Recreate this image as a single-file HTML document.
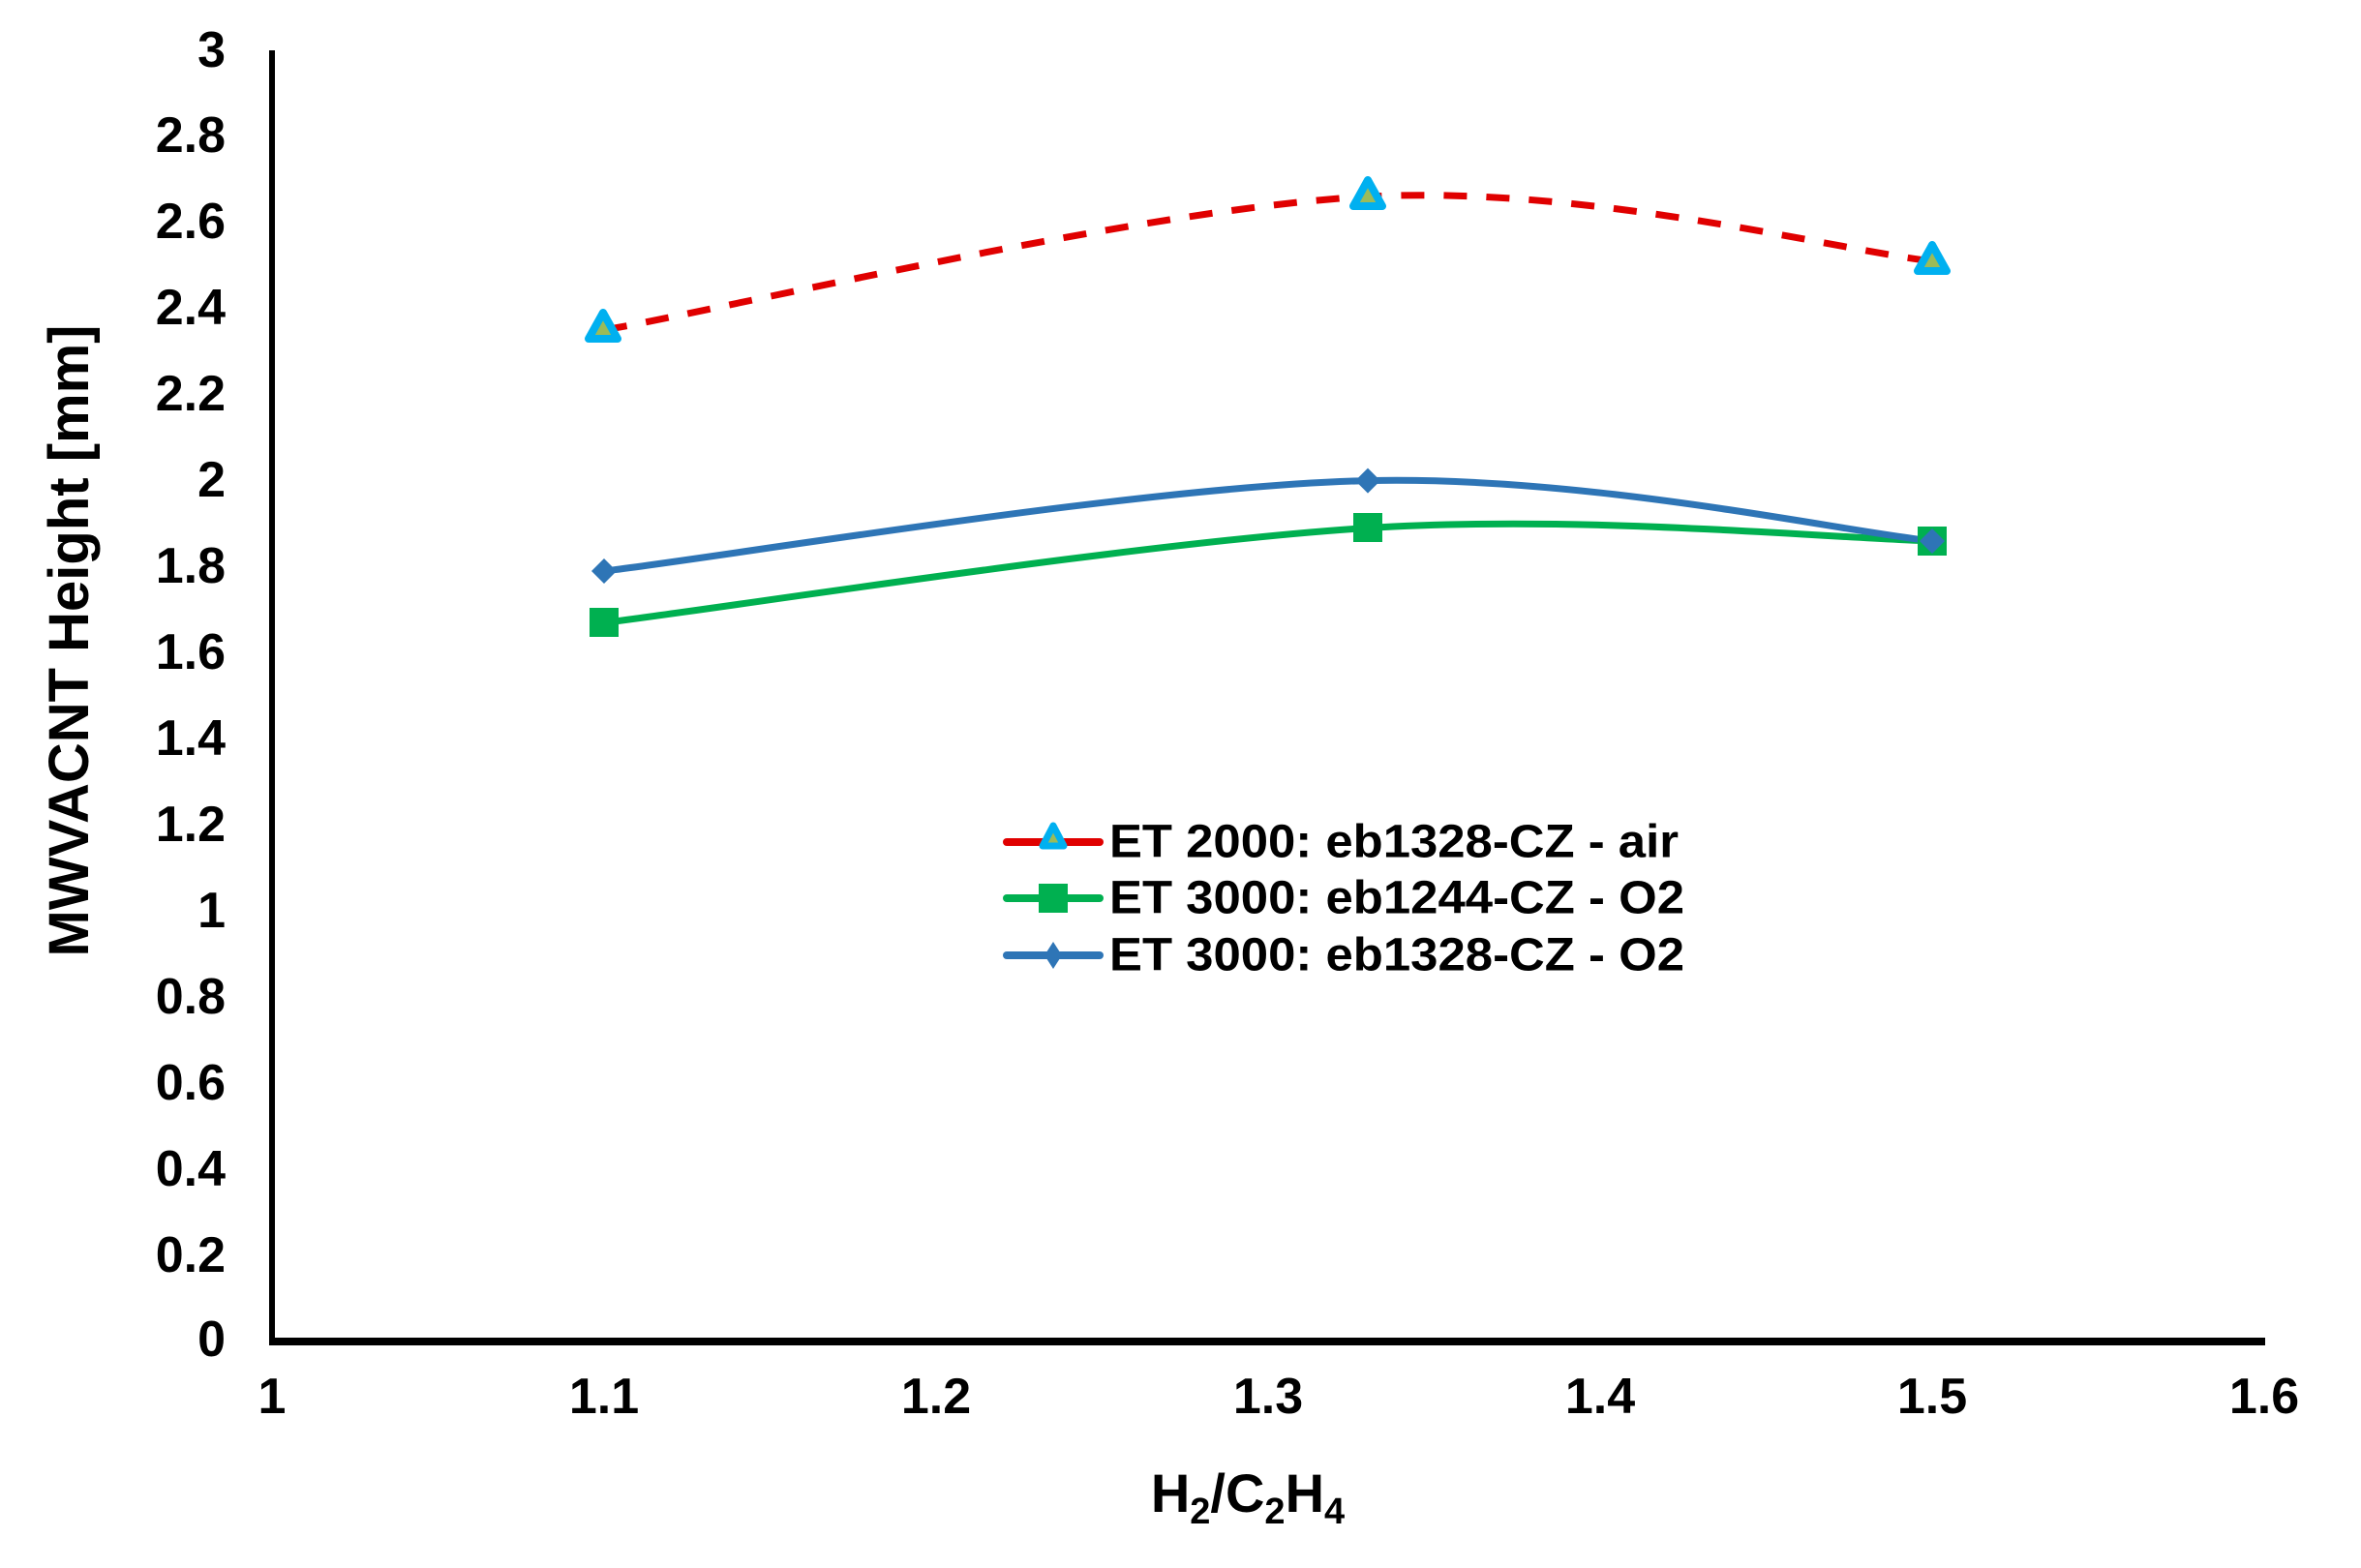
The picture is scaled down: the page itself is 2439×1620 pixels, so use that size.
<!DOCTYPE html>
<html><head><meta charset="utf-8"><style>html,body{margin:0;padding:0;background:#fff}svg{display:block}</style></head>
<body>
<svg width="2439" height="1620" viewBox="0 0 2439 1620" xmlns="http://www.w3.org/2000/svg" font-family="Liberation Sans, Arial, sans-serif" font-weight="bold">
<rect width="2439" height="1620" fill="#fff"/>
<!-- axes -->
<line x1="281" y1="52" x2="281" y2="1390" stroke="#000" stroke-width="6"/>
<line x1="278" y1="1386" x2="2340" y2="1386" stroke="#000" stroke-width="8"/>
<!-- y tick labels -->
<g font-size="52" text-anchor="end" dominant-baseline="central" fill="#000">
<text x="233" y="52">3</text>
<text x="233" y="140">2.8</text>
<text x="233" y="229">2.6</text>
<text x="233" y="318">2.4</text>
<text x="233" y="407">2.2</text>
<text x="233" y="496">2</text>
<text x="233" y="585">1.8</text>
<text x="233" y="674">1.6</text>
<text x="233" y="763">1.4</text>
<text x="233" y="852">1.2</text>
<text x="233" y="941">1</text>
<text x="233" y="1030">0.8</text>
<text x="233" y="1119">0.6</text>
<text x="233" y="1208">0.4</text>
<text x="233" y="1297">0.2</text>
<text x="233" y="1384">0</text>
</g>
<!-- x tick labels -->
<g font-size="52" text-anchor="middle" dominant-baseline="central" fill="#000">
<text x="281" y="1443">1</text>
<text x="624" y="1443">1.1</text>
<text x="967" y="1443">1.2</text>
<text x="1310" y="1443">1.3</text>
<text x="1653" y="1443">1.4</text>
<text x="1996" y="1443">1.5</text>
<text x="2339" y="1443">1.6</text>
</g>
<!-- axis titles -->
<text x="1289" y="1562" font-size="56" text-anchor="middle">H<tspan font-size="38" dy="12">2</tspan><tspan dy="-12">/C</tspan><tspan font-size="38" dy="12">2</tspan><tspan dy="-12">H</tspan><tspan font-size="38" dy="12">4</tspan></text>
<text transform="translate(91,662) rotate(-90)" font-size="58" text-anchor="middle">MWVACNT Height  [mm]</text>
<!-- series -->
<path d="M624,341 C755.5,318 1184.3,215 1413,203.1 C1641.7,191.2 1898.8,258.7 1996,269.8" fill="none" stroke="#e00000" stroke-width="7" stroke-dasharray="24,20"/>
<path d="M624,643.4 C755.5,627.1 1184.3,559.6 1413,545.5 C1641.7,531.4 1898.8,556.7 1996,558.9" fill="none" stroke="#00b050" stroke-width="7"/>
<path d="M624,590 C755.5,574.4 1184.3,501.8 1413,496.6 C1641.7,491.4 1898.8,548.5 1996,558.9" fill="none" stroke="#2e75b6" stroke-width="7"/>
<!-- markers -->
<g fill="#00b050"><rect x="609" y="628" width="30" height="30"/><rect x="1398" y="530" width="30" height="30"/><rect x="1981" y="544" width="30" height="30"/></g>
<g fill="#2e75b6"><path d="M624,577 l13,13 l-13,13 l-13,-13z"/><path d="M1413,483.6 l13,13 l-13,13 l-13,-13z"/><path d="M1996,546 l13,13 l-13,13 l-13,-13z"/></g>
<g fill="#9bbb59" stroke="#00b0f0" stroke-width="8" stroke-linejoin="round">
<path d="M623,323 l15,27 h-30z"/><path d="M1413,186 l15,27 h-30z"/><path d="M1996,253 l15,27 h-30z"/>
</g>
<!-- legend -->
<line x1="1040" y1="870" x2="1136" y2="870" stroke="#e00000" stroke-width="8" stroke-linecap="round"/>
<path d="M1088,853 l11,21 h-22z" fill="#9bbb59" stroke="#00b0f0" stroke-width="7" stroke-linejoin="round"/>
<line x1="1040" y1="928" x2="1136" y2="928" stroke="#00b050" stroke-width="8" stroke-linecap="round"/>
<rect x="1073" y="913" width="30" height="30" fill="#00b050"/>
<line x1="1040" y1="987" x2="1136" y2="987" stroke="#2e75b6" stroke-width="8" stroke-linecap="round"/>
<path d="M1088,973 l9,14 l-9,14 l-9,-14z" fill="#2e75b6"/>
<g font-size="48" dominant-baseline="central" fill="#000">
<text x="1146" y="870" textLength="588" lengthAdjust="spacingAndGlyphs">ET 2000: eb1328-CZ - air</text>
<text x="1146" y="928" textLength="594" lengthAdjust="spacingAndGlyphs">ET 3000: eb1244-CZ - O2</text>
<text x="1146" y="987" textLength="594" lengthAdjust="spacingAndGlyphs">ET 3000: eb1328-CZ - O2</text>
</g>
</svg>
</body></html>
